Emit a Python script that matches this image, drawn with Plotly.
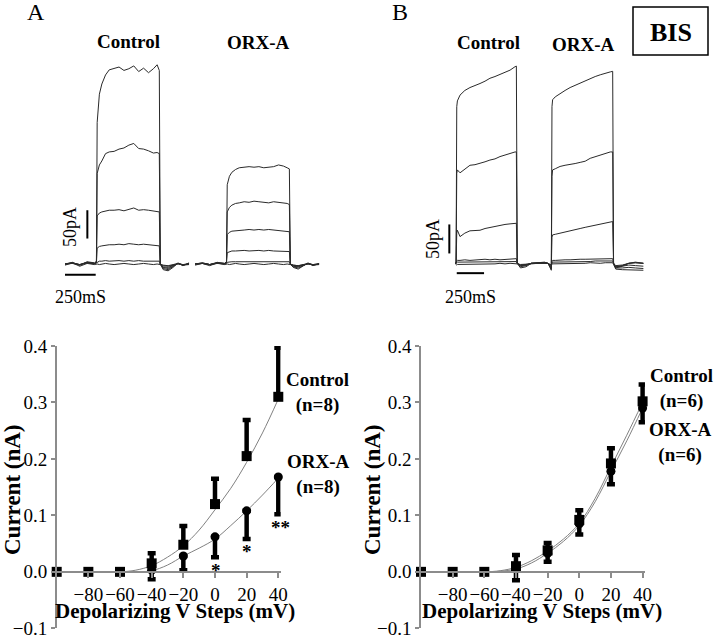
import plotly.graph_objects as go

W, H = 720, 639
SERIF = "Liberation Serif"

# ---------------- I-V data (nA) ----------------
volt = [-100, -80, -60, -40, -20, 0, 20, 40]
xticks = [-80, -60, -40, -20, 0, 20, 40]

# Panel A (n=8)
a_ctrl_mean = [0.0, 0.0, 0.0, 0.015, 0.048, 0.12, 0.205, 0.31]
a_ctrl_err = [0.0, 0.0, 0.0, 0.018, 0.033, 0.045, 0.064, 0.087]
a_orx_mean = [0.0, 0.0, 0.0, 0.003, 0.028, 0.062, 0.108, 0.168]
a_orx_err = [0.0, 0.0, 0.0, 0.016, 0.025, 0.036, 0.05, 0.066]

fit_v = [-100, -80, -60, -50, -40, -30, -20, -10, 0, 10, 20, 30, 40]
a_ctrl_fit = [0, 0, 0, 0.003, 0.011, 0.026, 0.046, 0.074, 0.11, 0.148, 0.194, 0.246, 0.306]
a_orx_fit = [0, 0, 0, 0, 0.002, 0.012, 0.028, 0.042, 0.058, 0.082, 0.108, 0.136, 0.166]

# Panel B, BIS (n=6)
b_ctrl_mean = [0.0, 0.0, 0.0, 0.01, 0.038, 0.092, 0.192, 0.302]
b_ctrl_err = [0.0, 0.0, 0.0, 0.02, 0.013, 0.017, 0.027, 0.03]
b_orx_mean = [0.0, 0.0, 0.0, 0.005, 0.033, 0.085, 0.178, 0.29]
b_orx_err = [0.0, 0.0, 0.0, 0.02, 0.015, 0.019, 0.023, 0.025]
b_ctrl_fit = [0, 0, 0, 0.002, 0.008, 0.02, 0.037, 0.058, 0.086, 0.13, 0.186, 0.242, 0.300]
b_orx_fit = [0, 0, 0, 0.001, 0.005, 0.016, 0.033, 0.054, 0.082, 0.124, 0.178, 0.232, 0.29]

# ---------------- current traces (ms, pA) ----------------
tA = [0, 60, 120, 180, 240, 256, 262, 280, 300, 330, 360, 400, 440, 480, 520,
      560, 600, 640, 680, 720, 750, 768, 776, 800, 840, 880, 920, 960, 1010]
A_ctrl_sweeps = [
    [0, 3, -2, 4, 2, 5, 250, 300, 318, 334, 343, 346, 348, 342, 345, 350, 340, 346, 338, 345, 352, 342, 0, -10, -12, -6, 2, -3, 2],
    [0, 2, -1, 3, 1, 4, 160, 175, 182, 195, 198, 199, 203, 205, 210, 213, 204, 203, 200, 196, 197, 195, 0, -8, -10, -5, 1, -2, 1],
    [0, 2, -2, 3, 1, 3, 85, 90, 92, 94, 95, 95, 96, 94, 97, 99, 95, 96, 95, 94, 93, 92, 0, -6, -8, -4, 1, -2, 0],
    [0, 1, -1, 2, 1, 2, 28, 31, 32, 33, 34, 34, 35, 34, 36, 35, 34, 35, 34, 33, 33, 32, 0, -5, -6, -3, 1, -1, 0],
    [0, 1, -1, 2, 0, 2, 4, 5, 5, 6, 5, 6, 6, 5, 6, 5, 6, 5, 5, 6, 5, 5, 0, -3, -4, -2, 0, -1, 0],
    [-2, 2, -4, 1, -1, 0, 0, -1, 0, 1, 0, -1, 0, 1, 0, -1, 0, 1, 0, -1, 0, 0, -1, -2, -3, -1, 1, -2, -1],
]
A_orx_start = 1059
A_orx_sweeps = [
    [0, 2, -1, 3, 1, 4, 140, 155, 162, 167, 170, 171, 172, 171, 172, 170, 171, 172, 175, 173, 170, 168, 0, -6, -9, -4, 2, -3, 1],
    [0, 2, -1, 2, 1, 3, 92, 100, 104, 107, 108, 110, 109, 111, 110, 109, 108, 110, 109, 108, 107, 105, 0, -5, -7, -3, 1, -2, 0],
    [0, 1, -1, 2, 1, 2, 52, 56, 58, 59, 60, 60, 61, 60, 61, 60, 61, 60, 60, 59, 58, 57, 0, -4, -5, -2, 1, -1, 0],
    [0, 1, -1, 1, 0, 2, 20, 22, 23, 23, 24, 24, 23, 24, 24, 23, 24, 23, 23, 22, 22, 22, 0, -3, -4, -2, 0, -1, 0],
    [0, 1, -1, 1, 0, 1, 3, 4, 4, 4, 4, 5, 4, 4, 5, 4, 4, 4, 4, 4, 4, 4, 0, -2, -3, -1, 0, -1, 0],
    [-2, 1, -3, 2, -1, 0, 0, -1, 0, 1, 0, -1, 0, 1, 0, -1, 0, 1, 0, -1, 0, 0, -1, -2, -3, -1, 1, -2, -1],
]

tB = [0, 10, 16, 22, 46, 90, 137, 183, 229, 275, 320, 366, 412, 458, 504, 550,
      562, 570, 600, 650, 700, 760, 820, 850]
B_ctrl_sweeps = [
    [0, 0, 270, 280, 290, 298, 303, 306, 310, 314, 319, 322, 326, 330, 333, 339, 340, 0, -8, -6, 0, 1, 2, 0],
    [0, 0, 155, 161, 156, 162, 169, 170, 172, 175, 178, 180, 184, 187, 190, 192, 192, 0, -6, -4, 0, 1, 1, 0],
    [0, 0, 52, 57, 46, 52, 56, 57, 57, 60, 62, 63, 66, 67, 68, 69, 69, 0, -4, -3, 0, 1, 1, 0],
    [0, 0, 4, 5, 5, 6, 5, 6, 6, 7, 6, 7, 6, 7, 7, 8, 8, 0, -4, -3, 0, 0, 1, 0],
    [0, 0, 1, 2, 2, 2, 2, 3, 2, 3, 3, 2, 3, 3, 3, 3, 3, 0, -3, -2, 0, 0, 0, 0],
    [0, -1, -3, -2, -2, -2, -1, -2, -1, -1, -1, -1, 0, -1, 0, 0, 0, -1, -2, -2, -1, 0, 0, 0],
]
B_orx_start = 852
tBo = [0, 20, 30, 36, 42, 66, 110, 156, 202, 248, 294, 340, 386, 432, 478, 524,
       570, 592, 600, 620, 680, 740, 800, 873]
B_orx_sweeps = [
    [0, -10, -12, 270, 282, 287, 293, 298, 303, 307, 311, 315, 319, 322, 325, 328, 330, 331, 0, -8, -5, 0, 2, 0],
    [0, -8, -10, 150, 161, 163, 167, 169, 170, 172, 174, 176, 181, 184, 186, 189, 192, 192, 0, -6, -4, 0, 1, 0],
    [0, -6, -8, 45, 49, 50, 52, 55, 57, 58, 60, 62, 64, 66, 67, 70, 72, 72, 0, -4, -3, 0, 1, 0],
    [0, -4, -6, 4, 5, 5, 6, 6, 6, 7, 7, 7, 7, 8, 8, 8, 8, 8, 0, -6, -5, -3, -4, -5],
    [0, -3, -4, 2, 2, 2, 3, 3, 3, 3, 3, 3, 3, 4, 4, 4, 4, 4, 0, -8, -8, -7, -8, -9],
    [0, -2, -3, -1, -1, -1, 0, 0, -1, 0, 0, 0, 1, 0, 0, 1, 1, 1, -2, -10, -11, -11, -12, -12],
]

scale_pA = 50
scale_ms = 250

# ---------------- helpers ----------------
def fx(px):
    return px / W

def fy(py):
    return 1 - py / H

fig = go.Figure()

# ---------- I-V plots ----------
def iv_panel(xa, ya, cm, ce, om, oe, cfit, ofit):
    for fit in (cfit, ofit):
        fig.add_trace(go.Scatter(x=fit_v, y=fit, mode="lines", xaxis=xa, yaxis=ya,
                                 line=dict(color="#808080", width=1, shape="spline"),
                                 hoverinfo="skip"))
    fig.add_trace(go.Scatter(
        x=volt, y=om, mode="markers", xaxis=xa, yaxis=ya, cliponaxis=False,
        marker=dict(symbol="circle", size=9, color="black"),
        error_y=dict(type="data", symmetric=False, array=[0] * len(oe), arrayminus=oe,
                     thickness=4.5, width=4, color="black")))
    fig.add_trace(go.Scatter(
        x=volt, y=cm, mode="markers", xaxis=xa, yaxis=ya, cliponaxis=False,
        marker=dict(symbol="square", size=10, color="black"),
        error_y=dict(type="data", symmetric=False, array=ce, arrayminus=[0] * len(ce),
                     thickness=4.5, width=4, color="black")))

iv_panel("x", "y", a_ctrl_mean, a_ctrl_err, a_orx_mean, a_orx_err, a_ctrl_fit, a_orx_fit)
iv_panel("x2", "y2", b_ctrl_mean, b_ctrl_err, b_orx_mean, b_orx_err, b_ctrl_fit, b_orx_fit)

AXC = "#8c8c8c"
tickfont = dict(family=SERIF, size=19, color="black")
y_dom = [fy(628.3), fy(346)]
x0_pos = fy(571.7)
PX_PER_MV = (278.3 - 56.7) / 140.0
X_MAX = 41.5

def xax(d0):
    d1 = d0 + PX_PER_MV * (X_MAX + 100)
    return dict(domain=[fx(d0), fx(d1)], range=[-100, X_MAX], anchor="free", position=x0_pos,
                showline=True, linecolor=AXC, linewidth=1.5, ticks="outside", ticklen=6,
                tickcolor=AXC, tickwidth=1.5, tickvals=xticks, tickfont=tickfont,
                tickangle=0, automargin=False, showgrid=False, zeroline=False)

def yax(anchor):
    return dict(domain=y_dom, range=[-0.1, 0.4], anchor=anchor, showline=True,
                linecolor=AXC, linewidth=1.5, ticks="outside", ticklen=4, tickcolor=AXC,
                tickwidth=1.5, tickvals=[-0.1, 0, 0.1, 0.2, 0.3, 0.4], tickformat=".1f",
                tickfont=tickfont, tickangle=0, automargin=False, showgrid=False,
                zeroline=False)

# ---------- current traces ----------
TR = dict(color="#2a2a2a", width=1)

def add_sweeps(t, sweeps, offset, xa, ya):
    for s in sweeps:
        fig.add_trace(go.Scatter(x=[v + offset for v in t], y=s, mode="lines",
                                 xaxis=xa, yaxis=ya, line=TR, hoverinfo="skip"))

add_sweeps(tA, A_ctrl_sweeps, 0, "x3", "y3")
add_sweeps(tA, A_orx_sweeps, A_orx_start, "x3", "y3")
add_sweeps(tB, B_ctrl_sweeps, 0, "x4", "y4")
add_sweeps(tBo, B_orx_sweeps, B_orx_start, "x4", "y4")

# scale bars (in data units of the trace axes)
SB = dict(color="black", width=2)
fig.add_trace(go.Scatter(x=[182, 182], y=[45, 45 + scale_pA], mode="lines", xaxis="x3", yaxis="y3", line=SB))
fig.add_trace(go.Scatter(x=[0, scale_ms], y=[-19, -19], mode="lines", xaxis="x3", yaxis="y3", line=SB))
fig.add_trace(go.Scatter(x=[-52, -52], y=[17, 17 + scale_pA], mode="lines", xaxis="x4", yaxis="y4", line=SB))
fig.add_trace(go.Scatter(x=[16, 16 + scale_ms], y=[-17, -17], mode="lines", xaxis="x4", yaxis="y4", line=SB))

# trace-axis calibration (pixels)
A_t0, A_ppms, A_i0, A_pppA = 65, 0.1228, 264, 0.566
B_t0, B_ppms, B_i0, B_pppA = 455, 0.1092, 263.3, 0.58

def trace_axes(px0, px1, py0, py1, t0, ppms, i0, pppA):
    xa = dict(domain=[fx(px0), fx(px1)], range=[(px0 - t0) / ppms, (px1 - t0) / ppms],
              visible=False, fixedrange=True, automargin=False)
    ya = dict(domain=[fy(py1), fy(py0)], range=[(i0 - py1) / pppA, (i0 - py0) / pppA],
              visible=False, fixedrange=True, automargin=False)
    return xa, ya

x3, y3 = trace_axes(55, 335, 40, 300, A_t0, A_ppms, A_i0, A_pppA)
x4, y4 = trace_axes(420, 665, 40, 300, B_t0, B_ppms, B_i0, B_pppA)
x3["anchor"] = "y3"; y3["anchor"] = "x3"
x4["anchor"] = "y4"; y4["anchor"] = "x4"

# ---------- annotations ----------
ann = []

def txt(text, px, py, size=19, angle=0, **kw):
    ann.append(dict(text=text, x=fx(px), y=fy(py), xref="paper", yref="paper",
                    showarrow=False, xanchor="center", yanchor="middle", textangle=angle,
                    font=dict(family=SERIF, size=size, color="black"), **kw))

txt("A", 36, 12, size=24)
txt("B", 400, 12, size=24)
txt("<b>Control</b>", 128, 41)
txt("<b>ORX-A</b>", 258, 43)
txt("<b>Control</b>", 488, 42)
txt("<b>ORX-A</b>", 583, 44)
txt("<b>BIS</b>", 670.5, 32, size=26)
txt("50pA", 70, 227, size=18, angle=-90)
txt("50pA", 433, 239, size=18, angle=-90)
txt("250mS", 80, 297, size=18)
txt("250mS", 470, 297, size=18)

txt("<b>Control</b><br><b>(n=8)</b>", 317, 392)
txt("<b>ORX-A</b><br><b>(n=8)</b>", 318, 474)
txt("<b>Control</b><br><b>(n=6)</b>", 681, 388)
txt("<b>ORX-A</b><br><b>(n=6)</b>", 680, 442)

txt("<b>*</b>", 216, 570)
txt("<b>*</b>", 247, 551)
txt("<b>**</b>", 280, 527)

txt("<b>Current (nA)</b>", 12, 490, size=23, angle=-90)
txt("<b>Current (nA)</b>", 372, 490, size=23, angle=-90)
txt("<b>Depolarizing V Steps (mV)</b>", 175, 611, size=21)
txt("<b>Depolarizing V Steps (mV)</b>", 542, 611, size=21)

fig.update_layout(
    width=W, height=H, margin=dict(l=0, r=0, t=0, b=0, pad=0, autoexpand=False),
    paper_bgcolor="white", plot_bgcolor="white", showlegend=False,
    font=dict(family=SERIF, color="black"),
    xaxis=xax(56.7), yaxis=yax("x"),
    xaxis2=xax(421), yaxis2=yax("x2"),
    xaxis3=x3, yaxis3=y3, xaxis4=x4, yaxis4=y4,
    annotations=ann,
    shapes=[dict(type="rect", xref="paper", yref="paper", x0=fx(633), x1=fx(708),
                 y0=fy(55), y1=fy(7), line=dict(color="black", width=1.5))],
)

fig.write_html(
    "out.html",
    config={"displayModeBar": False},
    post_script="document.documentElement.style.margin='0';"
                "document.documentElement.style.padding='0';"
                "document.body.style.margin='0';document.body.style.padding='0';",
)
